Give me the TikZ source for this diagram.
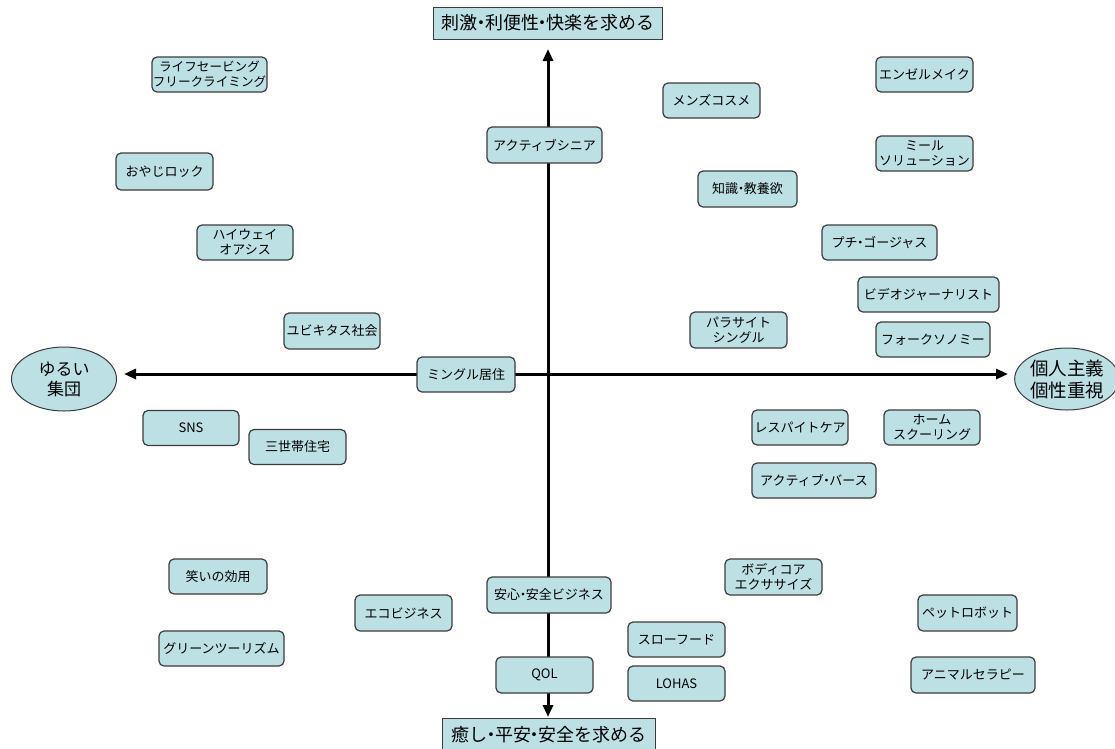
\documentclass[tikz,border=0pt]{standalone}
\usepackage{fontspec}
\setmainfont{Noto Sans CJK JP}
\usetikzlibrary{arrows.meta,shapes.geometric}
\definecolor{boxfill}{RGB}{189,224,228}
\definecolor{boxline}{RGB}{60,60,60}
% narrow middle dot between words
\newcommand\mdot{\kern-0.28em・\kern-0.28em}
\begin{document}
\begin{tikzpicture}[x=1pt,y=-1pt,
  item/.style={draw=boxline, line width=1.2pt, fill=boxfill, rounded corners=5pt,
    inner sep=0pt, align=center, font=\fontsize{13}{15}\selectfont},
  pole/.style={draw=boxline, line width=1pt, fill=boxfill, inner sep=0pt,
    font=\fontsize{18}{20}\selectfont},
  goal/.style={draw=boxline, line width=1pt, fill=boxfill, ellipse, inner sep=0pt, align=center},
  axis/.style={line width=3pt, -{Triangle[length=12pt,width=10pt]}}]

\fill[white] (0,0) rectangle (1115,748);
\useasboundingbox (0,0) rectangle (1115,748);

% axes
\coordinate (o) at (548,374);
\coordinate (up) at (548,49);
\coordinate (down) at (548,717);
\coordinate (left) at (124,374);
\coordinate (right) at (1008,374);
\draw[axis] (o) -- (up);
\draw[axis] (o) -- (down);
\draw[axis] (o) -- (left);
\draw[axis] (o) -- (right);

% poles
\node[pole, minimum width=229, minimum height=32] (top) at (548,23) {刺激\mdot 利便性\mdot 快楽を求める};
\node[pole, minimum width=213, minimum height=34] (bottom) at (549,735) {癒し\mdot 平安\mdot 安全を求める};
\node[goal, minimum width=105, minimum height=64, font=\fontsize{17}{20}\selectfont] (loose) at (64,379) {ゆるい\\集団};
\node[goal, minimum width=98, minimum height=62, font=\fontsize{18.5}{22}\selectfont] (indiv) at (1067,379) {個人主義\\個性重視};

% upper left
\node[item, minimum width=115, minimum height=35, font=\fontsize{12.6}{15}\selectfont] (lifesave) at (209.5,74.5) {ライフセービング\\フリークライミング};
\node[item, minimum width=97, minimum height=37] (oyaji) at (164.5,171.5) {おやじロック};
\node[item, minimum width=96, minimum height=35] (highway) at (245,242.5) {ハイウェイ\\オアシス};
\node[item, minimum width=96, minimum height=36] (ubiq) at (332,331) {ユビキタス社会};
\node[item, minimum width=98, minimum height=35] (mingle) at (466,374.5) {ミングル居住};
\node[item, minimum width=115, minimum height=36] (senior) at (544.5,145) {アクティブシニア};

% upper right
\node[item, minimum width=97, minimum height=35] (mens) at (711.5,100.5) {メンズコスメ};
\node[item, minimum width=97, minimum height=35] (angel) at (924.5,74.5) {エンゼルメイク};
\node[item, minimum width=97, minimum height=35] (meal) at (924.5,153.5) {ミール\\ソリューション};
\node[item, minimum width=99, minimum height=36] (chishiki) at (747.5,189) {知識\mdot 教養欲};
\node[item, minimum width=115, minimum height=35] (petit) at (879.5,242.5) {プチ\mdot ゴージャス};
\node[item, minimum width=141, minimum height=35] (video) at (928.5,294.5) {ビデオジャーナリスト};
\node[item, minimum width=97, minimum height=36] (parasite) at (738.5,330) {パラサイト\\シングル};
\node[item, minimum width=114, minimum height=35] (folk) at (933,339.5) {フォークソノミー};

% lower left
\node[item, minimum width=96, minimum height=35] (sns) at (191,428) {SNS};
\node[item, minimum width=97, minimum height=35] (sansetai) at (297.5,447) {三世帯住宅};
\node[item, minimum width=98, minimum height=35] (warai) at (218,576.5) {笑いの効用};
\node[item, minimum width=125, minimum height=35] (green) at (221.5,648.5) {グリーンツーリズム};
\node[item, minimum width=97, minimum height=36] (eco) at (403.5,613) {エコビジネス};
\node[item, minimum width=124, minimum height=36] (anshin) at (549,595) {安心\mdot 安全ビジネス};
\node[item, minimum width=97, minimum height=36] (qol) at (544.5,675) {QOL};

% lower right
\node[item, minimum width=96, minimum height=35] (respite) at (800,427.5) {レスパイトケア};
\node[item, minimum width=96, minimum height=35] (home) at (932,427.5) {ホーム\\スクーリング};
\node[item, minimum width=124, minimum height=35] (birth) at (814,480.5) {アクティブ\mdot バース};
\node[item, minimum width=97, minimum height=36] (bodycore) at (773.5,577) {ボディコア\\エクササイズ};
\node[item, minimum width=97, minimum height=35] (slow) at (676.5,639.5) {スローフード};
\node[item, minimum width=97, minimum height=35] (lohas) at (676.5,683.5) {LOHAS};
\node[item, minimum width=99, minimum height=36] (petrobo) at (967.5,613) {ペットロボット};
\node[item, minimum width=124, minimum height=36] (animal) at (973,675) {アニマルセラピー};
\end{tikzpicture}
\end{document}
